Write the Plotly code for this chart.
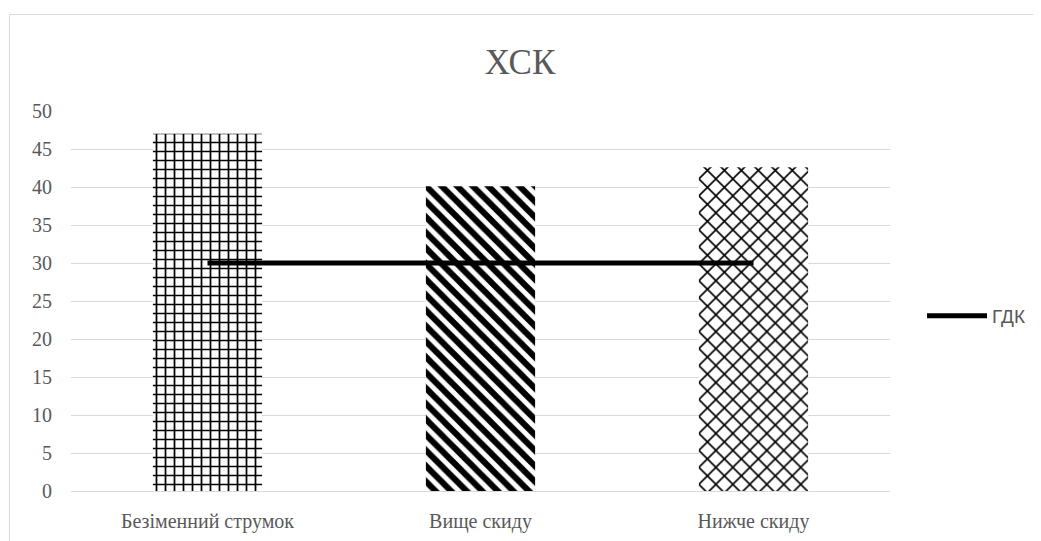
import plotly.graph_objects as go

categories = ["Безіменний струмок", "Вище скиду", "Нижче скиду"]
values = [47.0, 40.1, 42.6]
gdk = [30, 30, 30]
patterns = ["+", "\\", "x"]
pat_sizes = [9, 11, 12]
pat_solid = [0.35, 0.55, 0.25]

# page has an 8px body margin; coordinates below are figure coordinates
L, R, T, B = 63, 159, 103, 58
W, H = 1041, 541
pw, ph = W - L - R, H - T - B

fig = go.Figure()
for c, v, p, s, so in zip(categories, values, patterns, pat_sizes, pat_solid):
    fig.add_trace(go.Bar(
        x=[c], y=[v], showlegend=False,
        marker=dict(color="white", line=dict(width=0),
                    pattern=dict(shape=p, fgcolor="black", bgcolor="white", fgopacity=1,
                                 size=s, solidity=so, fillmode="overlay")),
    ))
fig.add_trace(go.Scatter(
    x=categories, y=gdk, mode="lines", name="ГДК",
    line=dict(color="black", width=5),
))

fig.update_layout(
    width=W, height=H,
    margin=dict(l=L, r=R, t=T, b=B, autoexpand=False),
    paper_bgcolor="white", plot_bgcolor="white",
    bargap=0.6, barmode="overlay",
    title=dict(text="ХСК", x=512 / W, xanchor="center", y=1 - 54 / H, yanchor="middle",
               font=dict(family="Liberation Serif", size=35, color="#595959")),
    legend=dict(x=(914 - L) / pw, xanchor="left", y=(483 - 308) / ph, yanchor="middle",
                font=dict(family="Liberation Sans", size=19, color="#595959"),
                bgcolor="rgba(0,0,0,0)", itemwidth=60),
    xaxis=dict(showgrid=False, showline=True, linecolor="#d9d9d9", linewidth=1,
               tickfont=dict(family="Liberation Serif", size=20, color="#595959"),
               ticks="", ticklabelstandoff=12),
    yaxis=dict(range=[0, 50], dtick=5, showgrid=True, gridcolor="#d9d9d9", gridwidth=1,
               zeroline=False, showline=False,
               tickfont=dict(family="Liberation Serif", size=20, color="#595959"),
               ticklabelstandoff=18),
    shapes=[dict(type="rect", xref="paper", yref="paper",
                 x0=(1.5 - L) / pw, x1=(1060 - L) / pw,
                 y0=(483 - 560) / ph, y1=(483 - 6.5) / ph,
                 line=dict(color="#d9d9d9", width=1), fillcolor="rgba(0,0,0,0)", layer="below")],
)

fig.write_html("out.html")
